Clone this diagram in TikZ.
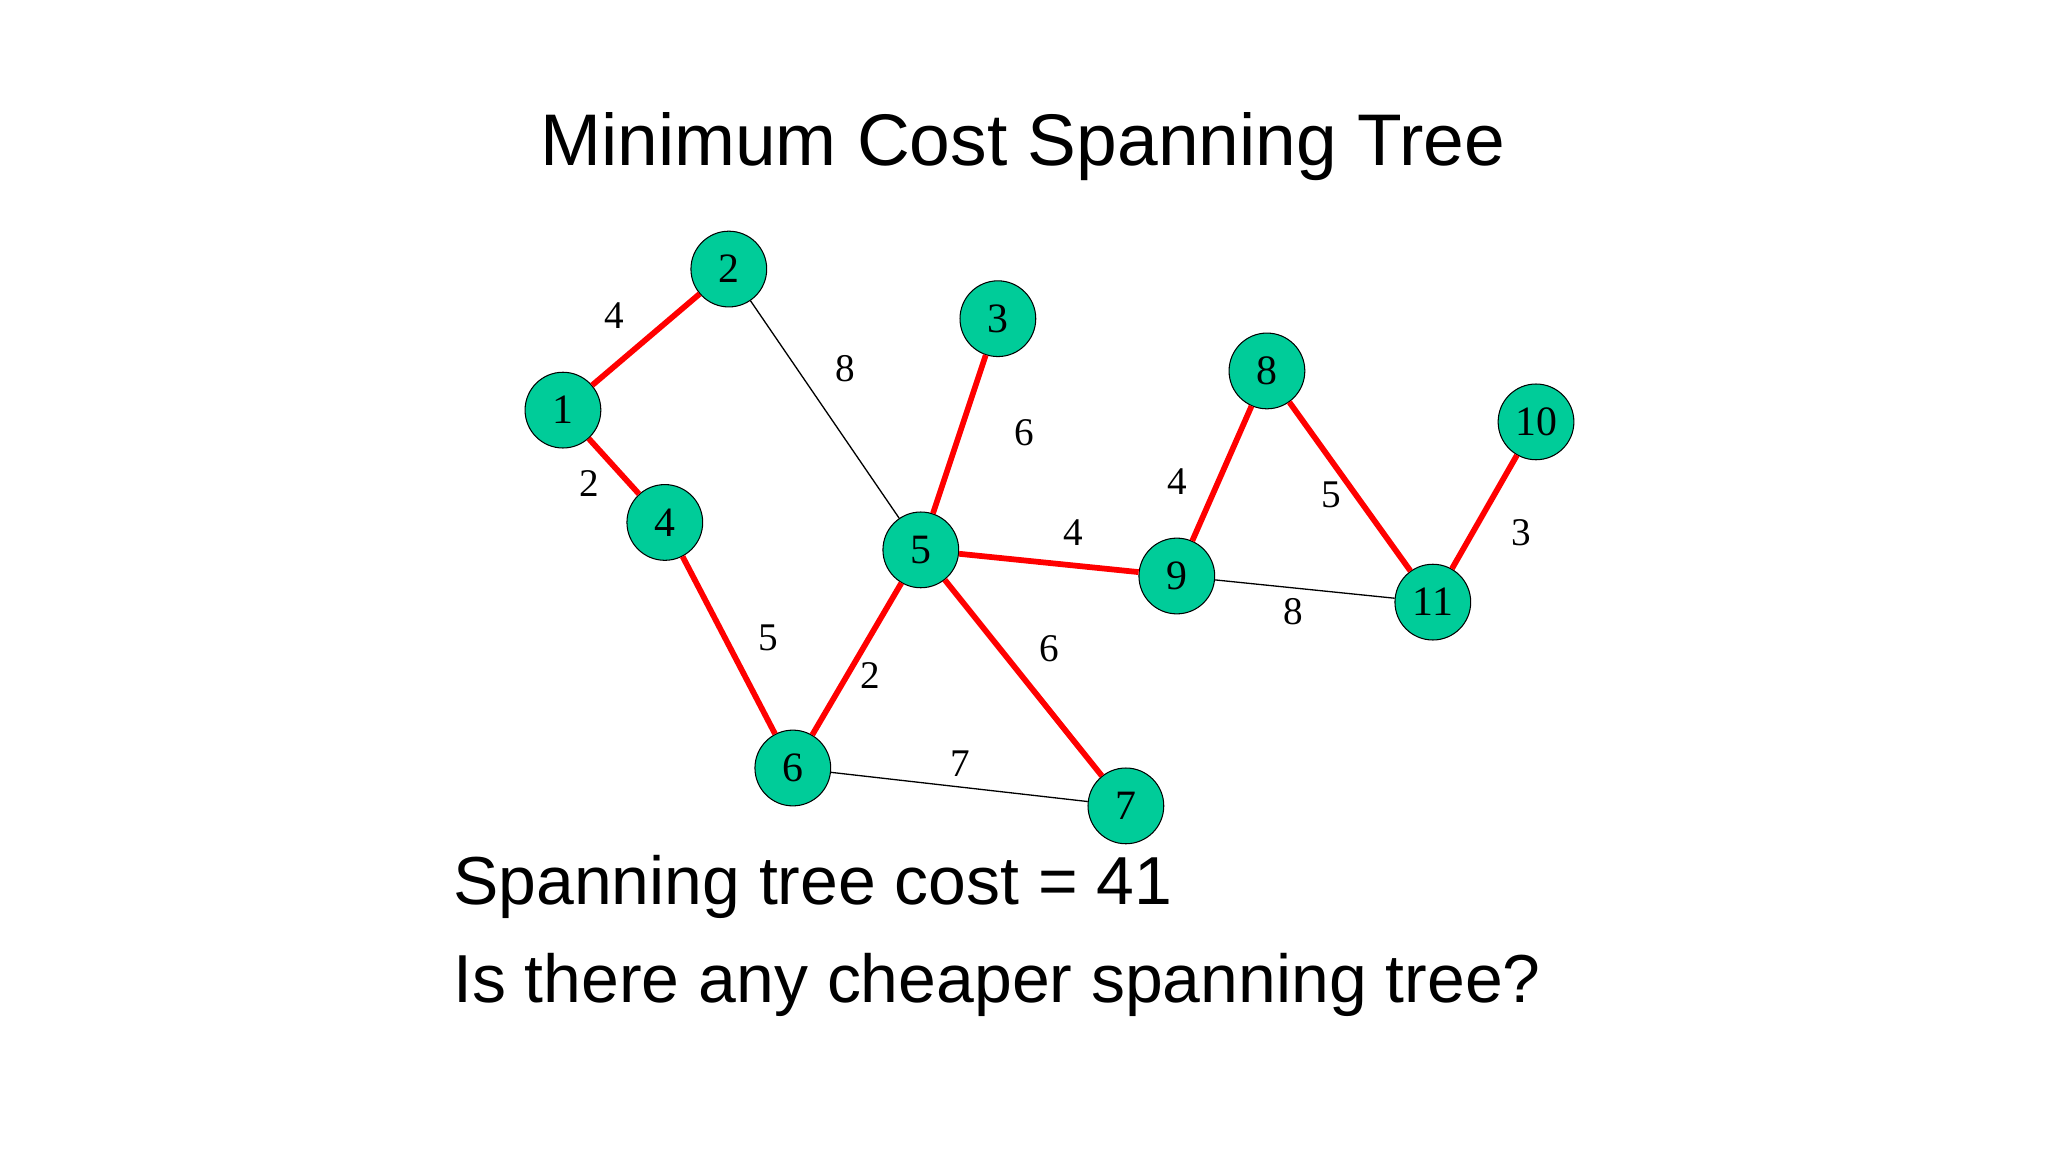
\documentclass[tikz,border=0pt]{standalone}
\usepackage{fontspec}
\setmainfont{Liberation Serif}
\newfontfamily\sansf{Liberation Sans}
\definecolor{nodegreen}{RGB}{0,204,153}
\begin{document}
\begin{tikzpicture}[x=0.5pt,y=-0.5pt,
  vtx/.style={circle,draw=black,fill=nodegreen,minimum size=29pt,inner sep=0pt,font=\fontsize{16}{16}\selectfont},
  tree/.style={red,line width=2.2pt},
  plain/.style={black,line width=0.5pt},
  wt/.style={font=\fontsize{15}{15}\selectfont}]
\useasboundingbox (0,0) rectangle (1568,882);
\node[font=\sansf\fontsize{28}{28}\selectfont] (title) at (783,112) {Minimum Cost Spanning Tree};
\node[vtx] (n1) at (431,314) {1};
\node[vtx] (n2) at (558,206) {2};
\node[vtx] (n3) at (764,244) {3};
\node[vtx] (n4) at (509,400) {4};
\node[vtx] (n5) at (705,421) {5};
\node[vtx] (n6) at (607,588) {6};
\node[vtx] (n7) at (862,617) {7};
\node[vtx] (n8) at (970,284) {8};
\node[vtx] (n9) at (901,441) {9};
\node[vtx] (n10) at (1176,323) {10};
\node[vtx] (n11) at (1097,461) {11};
\draw[plain] (n2) -- (n5);
\draw[plain] (n6) -- (n7);
\draw[plain] (n9) -- (n11);
\draw[tree] (n1) -- (n2);
\draw[tree] (n1) -- (n4);
\draw[tree] (n3) -- (n5);
\draw[tree] (n4) -- (n6);
\draw[tree] (n5) -- (n6);
\draw[tree] (n5) -- (n7);
\draw[tree] (n5) -- (n9);
\draw[tree] (n9) -- (n8);
\draw[tree] (n8) -- (n11);
\draw[tree] (n11) -- (n10);
\node[wt] (w1) at (470,242) {4};
\node[wt] (w2) at (647,282) {8};
\node[wt] (w3) at (784,331) {6};
\node[wt] (w4) at (451,370) {2};
\node[wt] (w5) at (588,488) {5};
\node[wt] (w6) at (666,517) {2};
\node[wt] (w7) at (822,408) {4};
\node[wt] (w8) at (803,497) {6};
\node[wt] (w9) at (735,585) {7};
\node[wt] (w10) at (901,369) {4};
\node[wt] (w11) at (1019,379) {5};
\node[wt] (w12) at (1165,408) {3};
\node[wt] (w13) at (990,468) {8};
\node[font=\sansf\fontsize{26}{26}\selectfont,anchor=west] (t1) at (340,679) {Spanning tree cost = 41};
\node[font=\sansf\fontsize{26}{26}\selectfont,anchor=west] (t2) at (340,754) {Is there any cheaper spanning tree?};
\end{tikzpicture}
\end{document}
